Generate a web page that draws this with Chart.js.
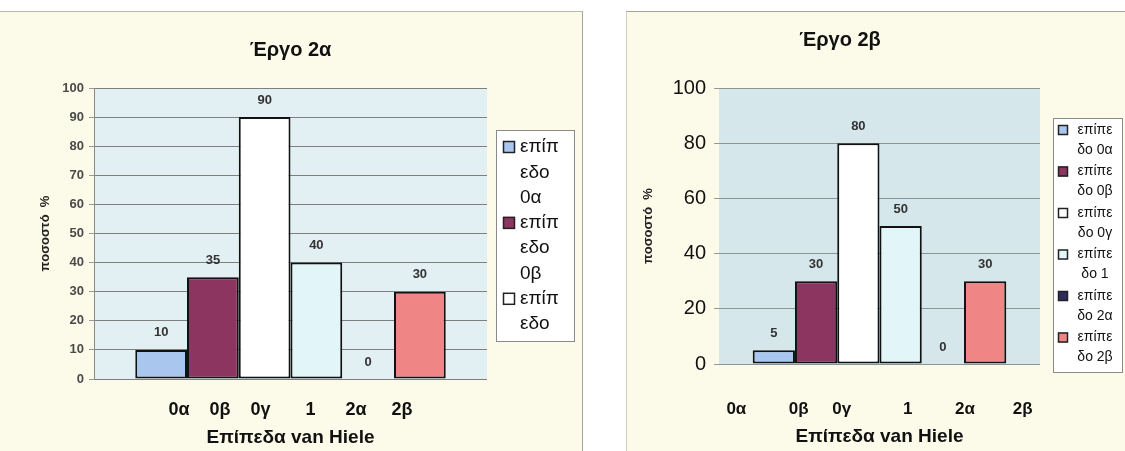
<!DOCTYPE html>
<html>
<head>
<meta charset="utf-8">
<script src="https://cdn.jsdelivr.net/npm/chart.js@4.4.1/dist/chart.umd.min.js"></script>
<style>
  html, body { margin: 0; padding: 0; background: #ffffff; width: 1125px; height: 451px; overflow: hidden; position: relative; }
  .panel { position: absolute; background: #fcfae8; }
  #panelA { left: 0; top: 11px; width: 582px; height: 440px; border-top: 1px solid #b8b8b0; border-right: 1px solid #a3a39c; }
  #panelB { left: 626px; top: 11px; width: 499px; height: 440px; border-top: 1px solid #a3a39c; border-left: 1px solid #cfcfc6; }
  canvas { position: absolute; top: 0; }
  #chartA { left: 0; }
  #chartB { left: 626px; }
</style>
</head>
<body>
<div class="panel" id="panelA"></div>
<div class="panel" id="panelB"></div>
<canvas id="chartA" width="583" height="451"></canvas>
<canvas id="chartB" width="499" height="451"></canvas>
<script>
// van Hiele levels and the share of pupils (%) at each level, per task
const levels = ['0α', '0β', '0γ', '1', '2α', '2β'];
const seriesNames = levels.map(l => 'επίπεδο ' + l);
const task2aValues = [10, 35, 90, 40, 0, 30];
const task2bValues = [5, 30, 80, 50, 0, 30];
const levelColors = ['#a9c7ee', '#8c3560', '#ffffff', '#e2f5f8', '#2e2b5e', '#f08585'];

// the category row is one spaced-out label under the whole group
const categoryLabelA = '0α    0β    0γ       1      2α     2β';
const categoryLabelB = '0α         0β     0γ           1         2α        2β';

const FONT = '"Liberation Sans", Arial, sans-serif';
Chart.defaults.font.family = FONT;

function makeDatasets(values) {
  return levels.map((l, i) => ({
    label: seriesNames[i],
    data: [values[i]],
    backgroundColor: levelColors[i],
    borderColor: '#111111',
    borderWidth: 2,
    borderSkipped: false
  }));
}

// light plot-area fill
const plotBackground = {
  id: 'plotBackground',
  beforeDraw(chart, args, opts) {
    const { ctx, chartArea: { left, top, width, height } } = chart;
    ctx.save();
    ctx.fillStyle = opts.color;
    ctx.fillRect(left, top, width, height);
    ctx.restore();
  }
};

// value printed above every bar
const valueLabels = {
  id: 'valueLabels',
  afterDatasetsDraw(chart, args, opts) {
    const ctx = chart.ctx;
    ctx.save();
    ctx.font = opts.font;
    ctx.fillStyle = opts.color;
    ctx.textAlign = 'center';
    ctx.textBaseline = 'middle';
    chart.data.datasets.forEach((ds, i) => {
      chart.getDatasetMeta(i).data.forEach((bar, j) => {
        ctx.fillText(String(ds.data[j]), bar.x, bar.y - opts.offset);
      });
    });
    ctx.restore();
  }
};

// legend box with series names wrapped over several lines
const wrappedLegend = {
  id: 'wrappedLegend',
  afterDraw(chart, args, o) {
    const { ctx, chartArea } = chart;
    const x = Math.round(chartArea.right + o.gap), y = o.top;
    ctx.save();
    ctx.fillStyle = '#ffffff';
    ctx.fillRect(x, y, o.width, o.height);
    ctx.strokeStyle = '#8a8a8a';
    ctx.lineWidth = 1;
    ctx.strokeRect(x + 0.5, y + 0.5, o.width, o.height);
    ctx.beginPath();
    ctx.rect(x + 1, y + 1, o.width - 2, o.height - 2);
    ctx.clip();
    ctx.font = o.font;
    ctx.textBaseline = 'middle';
    ctx.textAlign = o.align;
    let cy = y + o.firstLine;
    chart.data.datasets.forEach(ds => {
      const lines = o.wrap(ds.label);
      const s = o.swatch;
      ctx.fillStyle = ds.backgroundColor;
      ctx.fillRect(x + o.swatchX, cy - s / 2, s, s);
      ctx.strokeStyle = '#222';
      ctx.lineWidth = 1.5;
      ctx.strokeRect(x + o.swatchX + 0.5, cy - s / 2 + 0.5, s - 1, s - 1);
      ctx.fillStyle = '#111';
      lines.forEach((ln, k) => ctx.fillText(ln, x + o.textX, cy + k * o.lineHeight));
      cy += lines.length * o.lineHeight + o.itemGap;
    });
    ctx.restore();
  }
};

new Chart(document.getElementById('chartA'), {
  type: 'bar',
  data: { labels: [categoryLabelA], datasets: makeDatasets(task2aValues) },
  plugins: [plotBackground, valueLabels, wrappedLegend],
  options: {
    responsive: false,
    animation: false,
    layout: { padding: { left: 0, right: 96, top: 0, bottom: 0 } },
    datasets: { bar: { categoryPercentage: 0.79, barPercentage: 1 } },
    plugins: {
      legend: { display: false },
      tooltip: { enabled: false },
      title: {
        display: true, fullSize: false, text: 'Έργο 2α', color: '#111',
        font: { size: 20, weight: 'bold' }, padding: { top: 38, bottom: 26 }
      },
      plotBackground: { color: '#e2eff3' },
      valueLabels: { font: 'bold 13px ' + FONT, color: '#333', offset: 17 },
      wrappedLegend: {
        gap: 9, top: 130, width: 78, height: 211, font: '19px ' + FONT,
        align: 'left', textX: 24, swatch: 12, swatchX: 7, firstLine: 17,
        lineHeight: 25.3, itemGap: 0,
        wrap: n => [n.slice(0, 4), n.slice(4, 7), n.slice(8)]
      }
    },
    scales: {
      x: {
        grid: { display: false, drawTicks: false },
        border: { display: false },
        ticks: { font: { size: 18, weight: 'bold' }, color: '#111', padding: 20, maxRotation: 0, autoSkip: false },
        title: { display: true, text: 'Επίπεδα van Hiele', color: '#111', font: { size: 19, weight: 'bold' }, padding: { top: 0, bottom: 2 } },
        afterFit(s) { s.height = 72; }
      },
      y: {
        min: 0, max: 100,
        ticks: { stepSize: 10, font: { size: 13, weight: 'bold' }, color: '#4a4a4a', padding: 5 },
        grid: { color: '#7f7f7f', tickLength: 5, tickColor: '#9a9a9a' },
        border: { display: true, color: '#8a8a8a' },
        title: { display: true, text: 'ποσοστό  %', color: '#222', font: { size: 13, weight: 'bold' }, padding: { top: 38, bottom: 0 } },
        afterFit(s) { s.width = 94; }
      }
    }
  }
});

new Chart(document.getElementById('chartB'), {
  type: 'bar',
  data: { labels: [categoryLabelB], datasets: makeDatasets(task2bValues) },
  plugins: [plotBackground, valueLabels, wrappedLegend],
  options: {
    responsive: false,
    animation: false,
    layout: { padding: { left: 14, right: 85, top: 0, bottom: 0 } },
    datasets: { bar: { categoryPercentage: 0.79, barPercentage: 1 } },
    plugins: {
      legend: { display: false },
      tooltip: { enabled: false },
      title: {
        display: true, text: 'Έργο 2β', color: '#111',
        font: { size: 20, weight: 'bold' }, padding: { top: 28, bottom: 36 }
      },
      plotBackground: { color: '#d6e7ec' },
      valueLabels: { font: 'bold 13px ' + FONT, color: '#333', offset: 17 },
      wrappedLegend: {
        gap: 13, top: 118, width: 69, height: 254, font: '14px ' + FONT,
        align: 'center', textX: 42, swatch: 10, swatchX: 5, firstLine: 12,
        lineHeight: 20, itemGap: 1.5,
        wrap: n => [n.slice(0, 5), n.slice(5)]
      }
    },
    scales: {
      x: {
        grid: { display: false, drawTicks: false },
        border: { display: false },
        ticks: { font: { size: 17, weight: 'bold' }, color: '#111', padding: 35, maxRotation: 0, autoSkip: false },
        title: { display: true, text: 'Επίπεδα van Hiele', color: '#111', font: { size: 19, weight: 'bold' }, padding: { top: 0, bottom: 2.6 } },
        afterFit(s) { s.height = 87; }
      },
      y: {
        min: 0, max: 100,
        ticks: { stepSize: 20, font: { size: 20 }, color: '#111', padding: 8 },
        grid: { color: '#8a9696', tickLength: 5, tickColor: '#9a9a9a' },
        border: { display: false },
        title: { display: true, text: 'ποσοστό  %', color: '#222', font: { size: 13, weight: 'bold' }, padding: { top: 1, bottom: 0 } },
        afterFit(s) { s.width = 79; }
      }
    }
  }
});
</script>
</body>
</html>
